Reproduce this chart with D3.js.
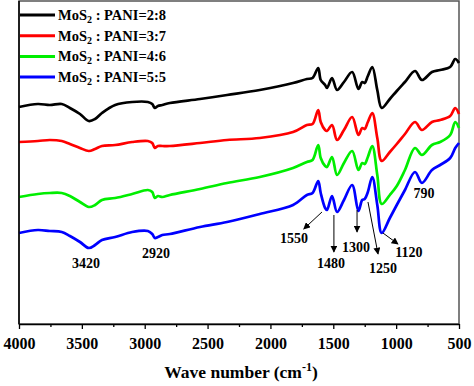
<!DOCTYPE html>
<html>
<head>
<meta charset="utf-8">
<script src="https://cdn.jsdelivr.net/npm/d3@7"></script>
<style>
  body { margin: 0; background: #fff; }
  text { font-family: 'Times New Roman', 'Liberation Serif', serif; font-weight: bold; }
</style>
</head>
<body>
<div id="chart"></div>
<script>
// wavenumbers (cm-1), shared by all four spectra
const wavenumbers = [
  4000, 3850, 3755, 3660, 3595, 3515, 3445, 3395, 3340, 3235, 3100, 2975,
  2940, 2920, 2895, 2860, 2800, 2560, 2345, 2085, 1820, 1710, 1665, 1620,
  1600, 1565, 1550, 1510, 1470, 1415, 1350, 1300, 1270, 1250, 1225, 1190,
  1150, 1115, 1050, 995, 930, 850, 795, 715, 650, 570, 530, 500
]

// transmittance, arbitrary units (curves are offset)
const ratio28 = [
  217, 220, 219, 220, 216, 210, 203, 205, 211, 219, 222, 222,
  220, 216, 218, 219, 221, 225, 229, 234, 241, 245, 246, 256,
  244, 239, 236, 246, 234, 242, 252, 235, 242, 241, 248, 257,
  234, 216, 225, 233, 242, 253, 244, 252, 254, 257, 265, 261
]
const ratio37 = [
  182, 183, 184, 183, 180, 176, 173, 175, 178, 179, 182, 183,
  181, 176, 178, 178, 178, 181, 184, 186, 192, 199, 200, 214,
  202, 194, 193, 199, 184, 194, 207, 189, 196, 195, 202, 211,
  186, 163, 172, 180, 190, 202, 194, 202, 204, 208, 216, 210
]
const ratio46 = [
  127, 130, 131, 131, 128, 122, 117, 119, 124, 126, 130, 134,
  132, 126, 128, 127, 129, 135, 141, 147, 156, 162, 164, 179,
  166, 158, 157, 167, 149, 161, 173, 154, 161, 160, 167, 178,
  149, 120, 129, 138, 154, 176, 169, 179, 182, 189, 202, 196
]
const ratio55 = [
  91, 94, 93, 92, 88, 82, 76, 79, 84, 87, 92, 93,
  90, 86, 87, 89, 90, 97, 102, 110, 119, 129, 131, 143,
  131, 116, 114, 128, 112, 124, 139, 113, 124, 125, 132, 147,
  119, 91, 106, 119, 134, 152, 141, 154, 159, 166, 176, 181
]

const seriesNames = ['2:8', '3:7', '4:6', '5:5']
const seriesColors = ['#000000', '#ff0000', '#00ee00', '#0000ff']
const seriesValues = [ratio28, ratio37, ratio46, ratio55]

const majorTicks = [4000, 3500, 3000, 2500, 2000, 1500, 1000, 500]
const minorTicks = [3750, 3250, 2750, 2250, 1750, 1250, 750]

// peak labels: [label, labelX, labelY, arrowFromX, arrowFromY, arrowToX, arrowToY]
const peakLabels = [
  ['3420', 3467, 56, null, null, null, null],
  ['2920', 2910, 66, null, null, null, null],
  ['1550', 1812, 81, 1590, 112, 1735, 95],
  ['1480', 1518, 56, 1495, 109, 1495, 72],
  ['1300', 1320, 72, 1311, 114, 1311, 92],
  ['1250', 1105, 51, 1224, 122, 1144, 70],
  ['1120', 898, 67, 1105, 91, 985, 80],
  ['790', 778, 126, null, null, null, null]
]

const margin = { top: 1, left: 19, right: 15, bottom: 62 }
const width = 474 - margin.left - margin.right
const height = 386 - margin.top - margin.bottom

const svg = d3
  .select('#chart')
  .append('svg')
  .attr('width', width + margin.left + margin.right)
  .attr('height', height + margin.top + margin.bottom)
  .append('g')
  .attr('transform', `translate(${margin.left},${margin.top})`)

const xScale = d3.scaleLinear().domain([4000, 500]).range([0, width])
const yScale = d3.scaleLinear().domain([0, 323]).range([height, 0])

svg
  .append('defs')
  .append('marker')
  .attr('id', 'arrow')
  .attr('viewBox', '0 0 10 10')
  .attr('refX', 9)
  .attr('refY', 5)
  .attr('markerWidth', 7)
  .attr('markerHeight', 7)
  .attr('markerUnits', 'userSpaceOnUse')
  .attr('orient', 'auto')
  .append('path')
  .attr('d', 'M0,0L10,5L0,10Z')
  .attr('fill', '#000')

// frame
svg
  .append('rect')
  .attr('width', width)
  .attr('height', height)
  .attr('fill', 'none')
  .attr('stroke', '#555')
  .attr('stroke-width', 1.5)

const line = d3
  .line()
  .x((d, i) => xScale(wavenumbers[i]))
  .y(d => yScale(d))
  .curve(d3.curveCatmullRom.alpha(0.5))

svg
  .selectAll('.spectrum')
  .data(seriesValues)
  .enter()
  .append('path')
  .attr('class', 'spectrum')
  .attr('d', d => line(d))
  .attr('fill', 'none')
  .attr('stroke', (d, i) => seriesColors[i])
  .attr('stroke-width', 2.7)
  .attr('stroke-linejoin', 'round')

// x axis
const xAxis = svg
  .append('g')
  .attr('transform', `translate(0,${height})`)
  .call(
    d3.axisBottom(xScale)
      .tickValues(majorTicks)
      .tickSize(5)
      .tickSizeOuter(0)
      .tickFormat(d3.format('d'))
  )
xAxis.select('.domain').attr('stroke', '#000').attr('stroke-width', 1.5)
xAxis.selectAll('.tick line').attr('stroke-width', 1.3)
xAxis
  .selectAll('.tick text')
  .attr('y', 14)
  .attr('font-size', 16)
  .attr('font-family', "'Times New Roman', 'Liberation Serif', serif")
  .attr('font-weight', 'bold')
  .attr('fill', '#000')

svg
  .append('g')
  .attr('transform', `translate(0,${height})`)
  .call(d3.axisBottom(xScale).tickValues(minorTicks).tickSize(3).tickFormat(''))
  .call(g => g.select('.domain').remove())
  .selectAll('.tick line')
  .attr('stroke-width', 1.3)

// left axis line
svg
  .append('line')
  .attr('y1', 0)
  .attr('y2', height)
  .attr('stroke', '#000')
  .attr('stroke-width', 1.5)

const title = svg
  .append('text')
  .attr('x', width / 2 + 2)
  .attr('y', height + 54)
  .attr('text-anchor', 'middle')
  .attr('font-size', 17.5)
title.append('tspan').text('Wave number (cm')
title.append('tspan').attr('dy', -7).attr('font-size', 12).text('-1')
title.append('tspan').attr('dy', 7).text(')')

// legend
const legend = svg
  .selectAll('.legend')
  .data(seriesNames)
  .enter()
  .append('g')
  .attr('transform', (d, i) => `translate(1,${14 + i * 20.7})`)
legend
  .append('line')
  .attr('x1', 0)
  .attr('x2', 35)
  .attr('stroke', (d, i) => seriesColors[i])
  .attr('stroke-width', 3)
const legendText = legend
  .append('text')
  .attr('x', 38)
  .attr('y', 5)
  .attr('font-size', 14.5)
legendText.append('tspan').text('MoS')
legendText.append('tspan').attr('dy', 3).attr('font-size', 10).text('2')
legendText.append('tspan').attr('dy', -3).text(d => ' : PANI=' + d)

// peak annotations
svg
  .selectAll('.peak-arrow')
  .data(peakLabels.filter(d => d[3] !== null))
  .enter()
  .append('line')
  .attr('x1', d => xScale(d[3]))
  .attr('y1', d => yScale(d[4]))
  .attr('x2', d => xScale(d[5]))
  .attr('y2', d => yScale(d[6]))
  .attr('stroke', '#000')
  .attr('stroke-width', 1)
  .attr('marker-end', 'url(#arrow)')

svg
  .selectAll('.peak-label')
  .data(peakLabels)
  .enter()
  .append('text')
  .attr('x', d => xScale(d[1]))
  .attr('y', d => yScale(d[2]))
  .attr('text-anchor', 'middle')
  .attr('font-size', 14)
  .text(d => d[0])
</script>
</body>
</html>
